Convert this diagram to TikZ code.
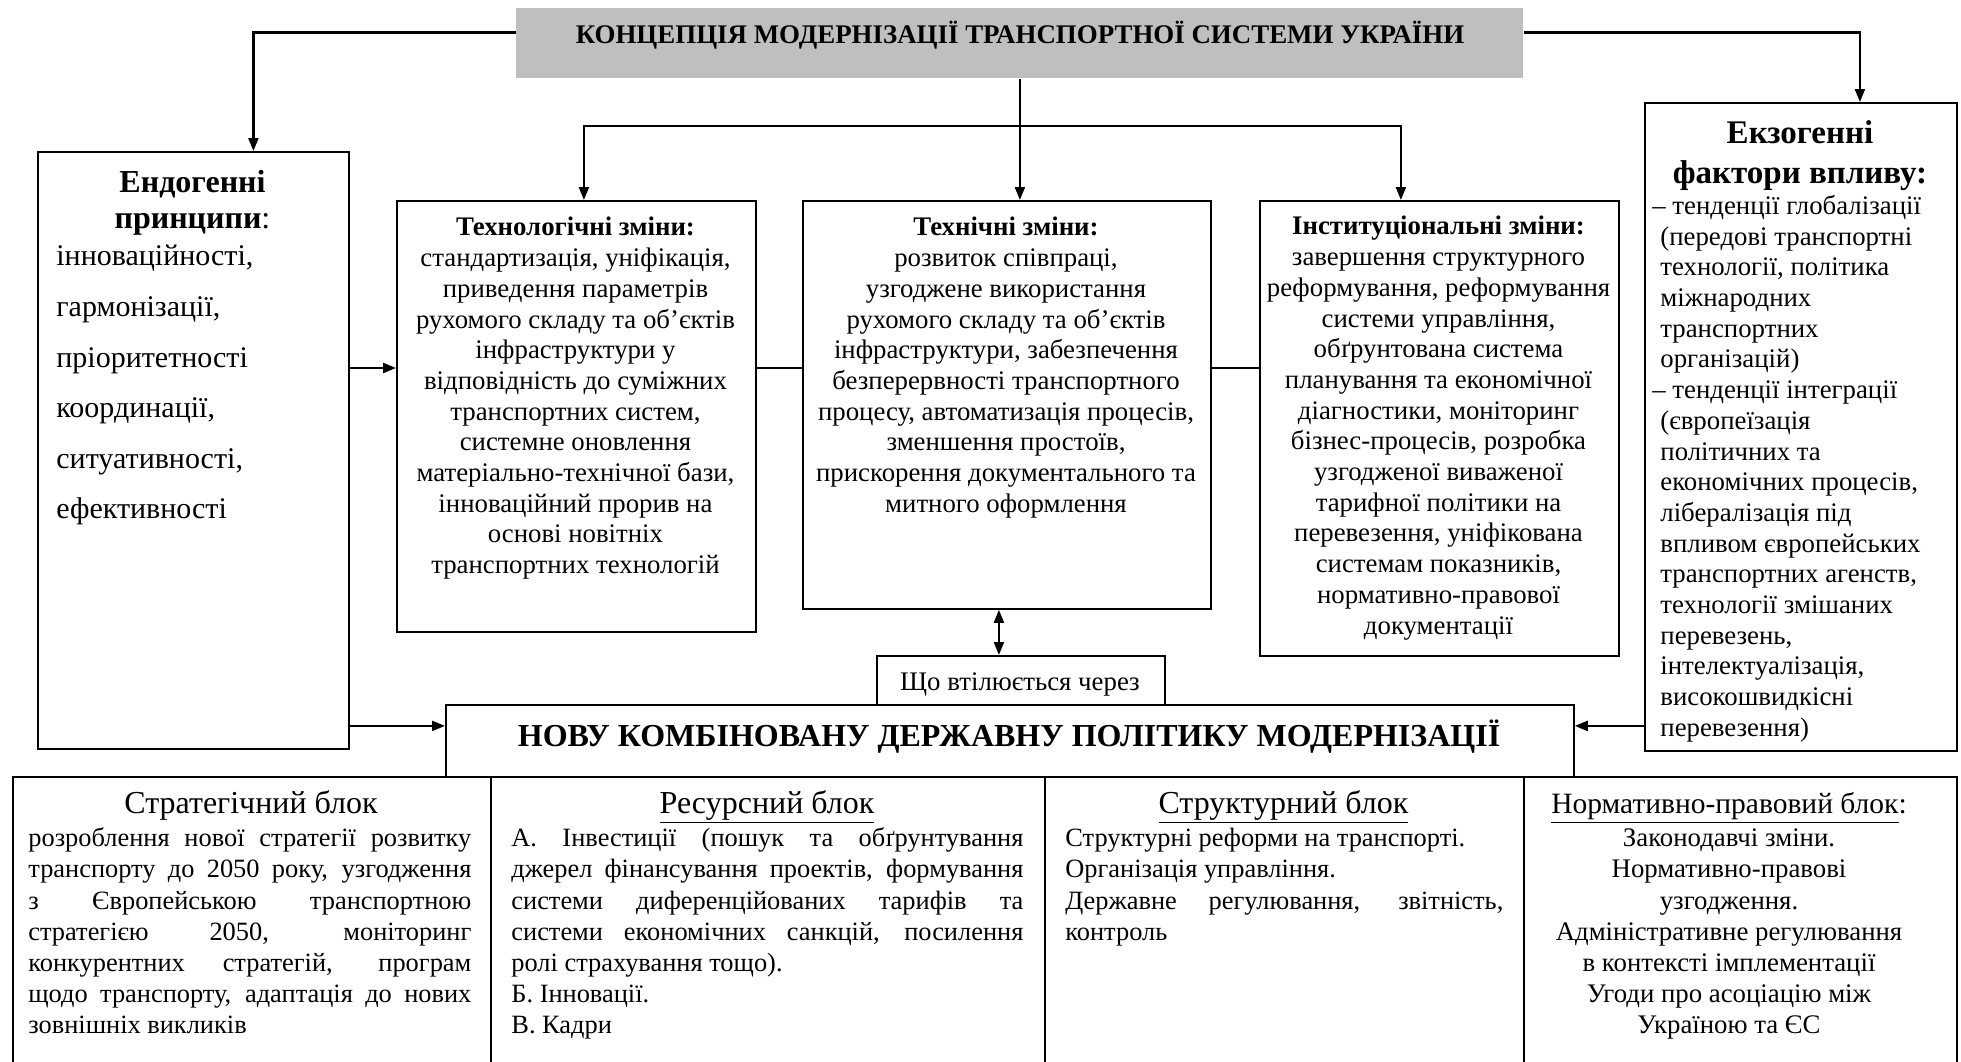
\documentclass[tikz,border=0pt]{standalone}
\usepackage{fontspec}
\setmainfont{Liberation Serif}
\usetikzlibrary{arrows.meta}

\newcommand\bodyfont{\fontsize{13.4}{15.35}\selectfont}
\newcommand\blockfont{\fontsize{13.2}{15.6}\selectfont}
\newcommand\js[2]{\makebox[#1][s]{#2}}

\begin{document}
\begin{tikzpicture}[x=0.5pt, y=-0.5pt,
  box/.style={draw, line width=0.9pt, inner sep=0pt, anchor=north west},
  txt/.style={inner sep=0pt, font=\bodyfont},
  blocktxt/.style={inner sep=0pt, font=\blockfont},
  arr/.style={line width=1.1pt, -{Triangle[length=6.5pt,width=5pt]}},
  ln/.style={line width=1pt},
  dblarr/.style={line width=1.1pt, {Triangle[length=6.5pt,width=5pt]}-{Triangle[length=6.5pt,width=5pt]}},
  headfont/.style={font=\fontsize{16}{18}\selectfont\bfseries},
  blockhead/.style={inner sep=0pt, anchor=base, font=\fontsize{16}{18}\selectfont},
]
\useasboundingbox (0,0) rectangle (1961,1061);
\clip (0,0) rectangle (1961,1061);

% ---------- frames ----------
\node[fill=gray!50, inner sep=0pt, anchor=north west, minimum width=503.5pt, minimum height=35pt] (titlebox) at (516,8) {};
\node[box, minimum width=155.5pt, minimum height=298.5pt] (endo)  at (37,151) {};
\node[box, minimum width=179.5pt, minimum height=215.5pt] (tech)  at (396,200) {};
\node[box, minimum width=204pt,   minimum height=204pt]   (techn) at (802,200) {};
\node[box, minimum width=179.5pt, minimum height=227.5pt] (inst)  at (1259,200) {};
\node[box, minimum width=156pt,   minimum height=324pt]   (exo)   at (1644,102) {};
\node[box, minimum width=144pt,   minimum height=24.5pt]  (via)   at (876,655) {};
\node[box, minimum width=564pt,   minimum height=36pt]    (pol)   at (445,704) {};
\node[box, minimum width=239pt,   minimum height=150pt]   (strat) at (12,776) {};
\node[box, minimum width=277pt,   minimum height=150pt]   (res)   at (490,776) {};
\node[box, minimum width=239.5pt, minimum height=150pt]   (struc) at (1044,776) {};
\node[box, minimum width=216.5pt, minimum height=150pt]   (norm)  at (1523,776) {};

% ---------- connectors ----------
\coordinate (row) at (0,368);
\coordinate (branchrow) at (0,126);
\draw[arr] ([yshift=5.5pt]titlebox.west) -| ([xshift=30pt]endo.north);
\draw[arr] ([yshift=5.5pt]titlebox.east) -| ([xshift=29.5pt]exo.north);
\draw[arr] (titlebox.south) -- (titlebox.south |- techn.north);
\draw[arr] (titlebox.south |- branchrow) -| ([xshift=3.75pt]tech.north);
\draw[arr] (titlebox.south |- branchrow) -| ([xshift=-19.25pt]inst.north);
\draw[arr] (endo.east |- row) -- (tech.west |- row);
\draw[ln] (tech.east |- row) -- (techn.west |- row);
\draw[ln] (techn.east |- row) -- (inst.west |- row);
\coordinate (dblx) at ([xshift=-11pt]via.north);
\draw[dblarr] (dblx |- techn.south) -- (dblx);
\coordinate (polrow) at ([yshift=7.5pt]pol.west);
\draw[arr] (endo.east |- polrow) -- (polrow);
\draw[arr] (exo.west |- polrow) -- (pol.east |- polrow);

% ---------- texts ----------
\node[txt, anchor=base, font=\fontsize{13.45}{15}\selectfont\bfseries] (titletext) at (1020,43.5)
  {КОНЦЕПЦІЯ МОДЕРНІЗАЦІЇ ТРАНСПОРТНОЇ СИСТЕМИ УКРАЇНИ};

\node[txt, anchor=north, align=center, font=\fontsize{16}{18}\selectfont] (endohead) at (192.5,167)
  {\strut\textbf{Ендогенні}\\\textbf{принципи}:};
\node[txt, anchor=north west, align=left, font=\fontsize{15}{25.3}\selectfont] (endolist) at (56,230)
  {\strut інноваційності,\\гармонізації,\\пріоритетності\\координації,\\ситуативності,\\ефективності};

\node[txt, anchor=north, align=center] (techtext) at (575.5,214)
  {\strut\textbf{Технологічні зміни:}\\
   стандартизація, уніфікація,\\
   приведення параметрів\\
   рухомого складу та об’єктів\\
   інфраструктури у\\
   відповідність до суміжних\\
   транспортних систем,\\
   системне оновлення\\
   матеріально-технічної бази,\\
   інноваційний прорив на\\
   основі новітніх\\
   транспортних технологій};

\node[txt, anchor=north, align=center] (techntext) at (1006,214)
  {\strut\textbf{Технічні зміни:}\\
   розвиток співпраці,\\
   узгоджене використання\\
   рухомого складу та об’єктів\\
   інфраструктури, забезпечення\\
   безперервності транспортного\\
   процесу, автоматизація процесів,\\
   зменшення простоїв,\\
   прискорення документального та\\
   митного оформлення};

\node[txt, anchor=north, align=center] (insttext) at (1438.5,213)
  {\strut\textbf{Інституціональні зміни:}\\
   завершення структурного\\
   реформування, реформування\\
   системи управління,\\
   обґрунтована система\\
   планування та економічної\\
   діагностики, моніторинг\\
   бізнес-процесів, розробка\\
   узгодженої виваженої\\
   тарифної політики на\\
   перевезення, уніфікована\\
   системам показників,\\
   нормативно-правової\\
   документації};

\node[txt, anchor=north, align=center, font=\fontsize{16.5}{20}\selectfont\bfseries] (exohead) at (1800,115)
  {\strut Екзогенні\\фактори впливу:};
\node[txt, anchor=north west, align=left] (exotext) at (1660,192.5)
  {\strut\hspace{-4pt}– тенденції глобалізації\\
   (передові транспортні\\
   технології, політика\\
   міжнародних\\
   транспортних\\
   організацій)\\
   \hspace{-4pt}– тенденції інтеграції\\
   (європеїзація\\
   політичних та\\
   економічних процесів,\\
   лібералізація під\\
   впливом європейських\\
   транспортних агенств,\\
   технології змішаних\\
   перевезень,\\
   інтелектуалізація,\\
   високошвидкісні\\
   перевезення)};

\node[txt, anchor=base] (viatext) at (1020,690) {Що втілюється через};
\node[txt, anchor=base, headfont] (poltext) at (1009,746)
  {НОВУ КОМБІНОВАНУ ДЕРЖАВНУ ПОЛІТИКУ МОДЕРНІЗАЦІЇ};

% ---------- bottom blocks ----------
\node[blockhead] (strathead) at (251,813) {Стратегічний блок};
\node[blockhead] (reshead) at (767,813) {\underline{Ресурсний блок}};
\node[blockhead] (struchead) at (1283.5,813) {\underline{Структурний блок}};
\node[blockhead, font=\fontsize{14.75}{17}\selectfont] (normhead) at (1729,813) {\underline{Нормативно-правовий блок}:};

\node[blocktxt, anchor=north west, align=left] (strattext) at (28,824.5)
  {\strut\js{221.5pt}{розроблення нової стратегії розвитку}\\
   \js{221.5pt}{транспорту до 2050 року, узгодження}\\
   \js{221.5pt}{з Європейською транспортною}\\
   \js{221.5pt}{стратегією 2050, моніторинг}\\
   \js{221.5pt}{конкурентних стратегій, програм}\\
   \js{221.5pt}{щодо транспорту, адаптація до нових}\\
   зовнішніх викликів};

\node[blocktxt, anchor=north west, align=left] (restext) at (511,824.5)
  {\strut\js{256pt}{А. Інвестиції (пошук та обґрунтування}\\
   \js{256pt}{джерел фінансування проектів, формування}\\
   \js{256pt}{системи диференційованих тарифів та}\\
   \js{256pt}{системи економічних санкцій, посилення}\\
   ролі страхування тощо).\\
   Б. Інновації.\\
   В. Кадри};

\node[blocktxt, anchor=north west, align=left] (structext) at (1065,824.5)
  {\strut Структурні реформи на транспорті.\\
   Організація управління.\\
   \js{219pt}{Державне регулювання, звітність,}\\
   контроль};

\node[blocktxt, anchor=north, align=center, font=\fontsize{13.4}{15.6}\selectfont] (normtext) at (1729,824.5)
  {\strut Законодавчі зміни.\\
   Нормативно-правові\\
   узгодження.\\
   Адміністративне регулювання\\
   в контексті імплементації\\
   Угоди про асоціацію між\\
   Україною та ЄС};
\end{tikzpicture}
\end{document}
